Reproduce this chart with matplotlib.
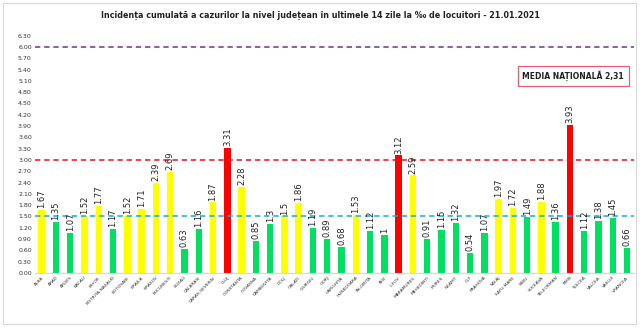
import numpy as np
import matplotlib.pyplot as plt
from matplotlib.patches import Rectangle

judete = ['ALBA', 'ARAD', 'ARGES', 'BACAU', 'BIHOR', 'BISTRITA-NASAUD', 'BOTOSANI',
          'BRAILA', 'BRASOV', 'BUCURESTI', 'BUZAU', 'CALARASI', 'CARAS-SEVERIN', 'CLUJ',
          'CONSTANTA', 'COVASNA', 'DAMBOVITA', 'DOLJ', 'GALATI', 'GIURGIU', 'GORJ',
          'HARGHITA', 'HUNEDOARA', 'IALOMITA', 'IASI', 'ILFOV', 'MARAMURES', 'MEHEDINTI',
          'MURES', 'NEAMT', 'OLT', 'PRAHOVA', 'SALAJ', 'SATU MARE', 'SIBIU', 'SUCEAVA',
          'TELEORMAN', 'TIMIS', 'TULCEA', 'VALCEA', 'VASLUI', 'VRANCEA']
incidenta = [1.67, 1.35, 1.07, 1.52, 1.77, 1.17, 1.52, 1.71, 2.39, 2.69, 0.63, 1.16,
             1.87, 3.31, 2.28, 0.85, 1.3, 1.5, 1.86, 1.19, 0.89, 0.68, 1.53, 1.12, 1,
             3.12, 2.59, 0.91, 1.15, 1.32, 0.54, 1.07, 1.97, 1.72, 1.49, 1.88, 1.36,
             3.93, 1.12, 1.38, 1.45, 0.66]
praguri = [1.5, 3.0, 6.0]
media_nationala = '2,31'

def culoare(v):
    if v > 3:
        return '#ff0000'
    if v >= 1.5:
        return '#ffff00'
    return '#00e060'

fig = plt.figure(figsize=(6.4, 3.34), dpi=100)
ax = fig.add_axes([0.054, 0.183, 0.937, 0.71])

x = np.arange(len(judete))
ax.bar(x, incidenta, width=0.45, color=[culoare(v) for v in incidenta], zorder=2)

# valorile deasupra barelor, rotite vertical
for xi, v in zip(x, incidenta):
    ax.text(xi, v + 0.05, f'{v:g}', rotation=90, ha='center', va='bottom',
            fontsize=6, color='#222222', zorder=4)

ax.axhline(praguri[0], color='#1aa7e0', ls=(0, (3.5, 2.5)), lw=1.1, zorder=3)
ax.axhline(praguri[1], color='#e8101a', ls=(0, (3.5, 2.5)), lw=1.1, zorder=3)
ax.axhline(praguri[2], color='#7030a0', ls=(0, (3.5, 2.5)), lw=1.1, zorder=3)

ax.set_xlim(-0.5, len(judete) - 0.5)
ax.set_ylim(0, 6.3)
yt = np.arange(0, 6.31, 0.3)
ax.set_yticks(yt)
ax.set_yticklabels([f'{t:.2f}' for t in yt], fontsize=4.5, color='#333333')
ax.set_xticks(x)
ax.set_xticklabels(judete, rotation=45, ha='right', rotation_mode='anchor',
                   fontsize=3.2, color='#333333')
ax.tick_params(length=0, pad=2)
for s in ['top', 'right', 'left']:
    ax.spines[s].set_visible(False)
ax.spines['bottom'].set_color('#d9d9d9')
ax.spines['bottom'].set_linewidth(0.8)

fig.text(0.5, 0.955, 'Incidența cumulată a cazurilor la nivel județean în ultimele 14 zile la ‰ de locuitori - 21.01.2021',
         ha='center', va='center', fontsize=5.8, fontweight='semibold', color='#222222')

ax.text(0.983, 0.83, f'MEDIA NAȚIONALĂ {media_nationala}', transform=ax.transAxes,
        ha='right', va='center', fontsize=5.5, fontweight='bold', color='#222222',
        bbox=dict(boxstyle='square,pad=0.6', fc='white', ec='#e06070', lw=0.9), zorder=5)

fig.patches.append(Rectangle((0.004, 0.03), 0.99, 0.96, transform=fig.transFigure,
                             fill=False, ec='#d9d9d9', lw=0.8))

fig.savefig('out.png', dpi=100)
